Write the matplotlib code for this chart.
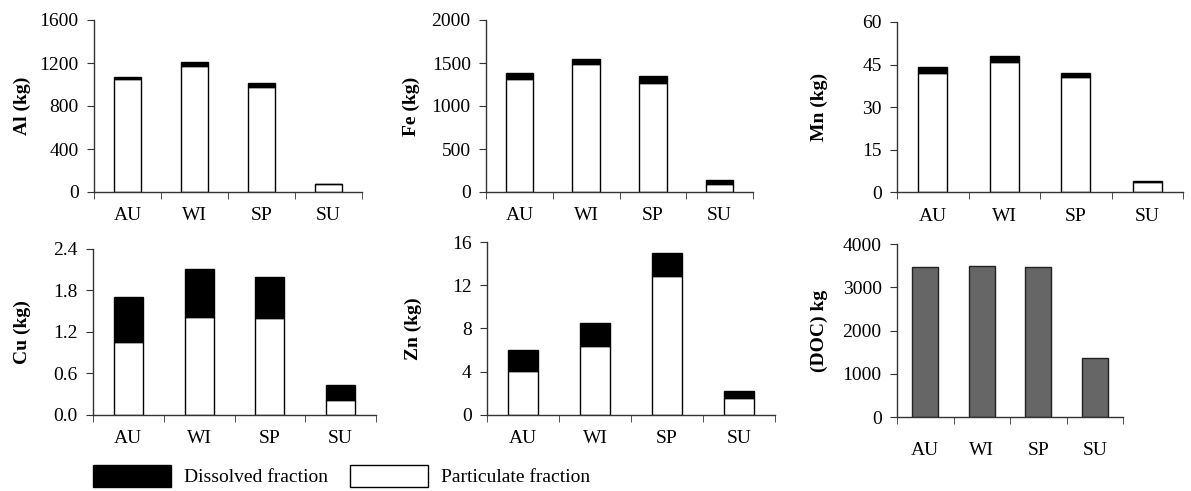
import matplotlib
matplotlib.use("Agg")
import matplotlib.pyplot as plt
import matplotlib.patches as mpatches
import numpy as np

plt.rcParams['font.family'] = ['Liberation Serif', 'DejaVu Serif']

seasons = ['AU', 'WI', 'SP', 'SU']

# particulate / dissolved fractions (kg)
al_part = [1050, 1171, 979, 70]
al_diss = [22, 34, 34, 8]
fe_part = [1317, 1487, 1262, 89]
fe_diss = [62, 63, 82, 51]
mn_part = [41.9, 45.9, 40.5, 3.6]
mn_diss = [2.4, 2.2, 1.5, 0.4]
cu_part = [1.06, 1.42, 1.405, 0.22]
cu_diss = [0.65, 0.685, 0.595, 0.21]
zn_part = [4.08, 6.36, 12.85, 1.51]
zn_diss = [1.88, 2.13, 2.16, 0.68]
doc = [3475, 3506, 3475, 1367]

# rect (px from left/top) -> figure fraction
W, H = 1191, 491
def rect(x0, x1, ytop, ybot):
    return [x0 / W, (H - ybot) / H, (x1 - x0) / W, (ybot - ytop) / H]

fig = plt.figure(figsize=(11.91, 4.91), dpi=100)

panels = [
    (rect(94, 362, 20, 192), al_part, al_diss, 'Al (kg)', [0, 400, 800, 1200, 1600], '%d', -0.269),
    (rect(486, 753, 20, 192), fe_part, fe_diss, 'Fe (kg)', [0, 500, 1000, 1500, 2000], '%d', -0.281),
    (rect(897, 1183, 22, 192.3), mn_part, mn_diss, 'Mn (kg)', [0, 15, 30, 45, 60], '%d', -0.273),
    (rect(93, 376, 249, 414.7), cu_part, cu_diss, 'Cu (kg)', [0, 0.6, 1.2, 1.8, 2.4], '%.1f', -0.251),
    (rect(487, 775, 242, 414.7), zn_part, zn_diss, 'Zn (kg)', [0, 4, 8, 12, 16], '%d', -0.257),
]

x = np.arange(len(seasons))
spine_col = '#333333'

def style(ax, yticks, fmt, labx, ylabel, pad):
    ax.set_xlim(-0.5, 3.5)
    ax.set_ylim(yticks[0], yticks[-1])
    ax.set_yticks(yticks)
    ax.set_yticklabels([fmt % v for v in yticks])
    ax.set_xticks(x)
    ax.set_xticklabels(seasons)
    ax.set_xticks(np.arange(-0.5, 4, 1), minor=True)
    ax.tick_params(axis='x', which='major', length=0, pad=pad, labelsize=14)
    ax.tick_params(axis='x', which='minor', length=5, direction='out', color=spine_col)
    ax.tick_params(axis='y', length=5, pad=6, direction='out', labelsize=14, color=spine_col)
    for s in ['top', 'right']:
        ax.spines[s].set_visible(False)
    for s in ['left', 'bottom']:
        ax.spines[s].set_color(spine_col)
        ax.spines[s].set_linewidth(1.0)
    ax.set_ylabel(ylabel, fontsize=14, fontweight='bold', va='center')
    ax.yaxis.set_label_coords(labx, 0.5)

for r, part, diss, lab, yt, fmt, labx in panels:
    ax = fig.add_axes(r)
    ax.bar(x, part, 0.41, color='white', edgecolor='black', linewidth=1.0)
    ax.bar(x, diss, 0.41, bottom=part, color='black', edgecolor='black', linewidth=1.0)
    style(ax, yt, fmt, labx, lab, 11)

ax = fig.add_axes(rect(897, 1123, 244.3, 417))
ax.bar(x, doc, 0.46, color='#666666', edgecolor='#222222', linewidth=1.0)
style(ax, [0, 1000, 2000, 3000, 4000], '%d', -0.345, '(DOC) kg', 18)

handles = [mpatches.Patch(facecolor='black', edgecolor='black', label='Dissolved fraction'),
           mpatches.Patch(facecolor='white', edgecolor='black', label='Particulate fraction')]
fig.legend(handles=handles, loc='center left', bbox_to_anchor=(93 / W, 0.031), ncol=2,
           frameon=False, fontsize=14, handlelength=4.0, handleheight=1.4,
           handletextpad=0.7, columnspacing=1.1, borderpad=0, borderaxespad=0)

fig.savefig('out.png', dpi=100)
